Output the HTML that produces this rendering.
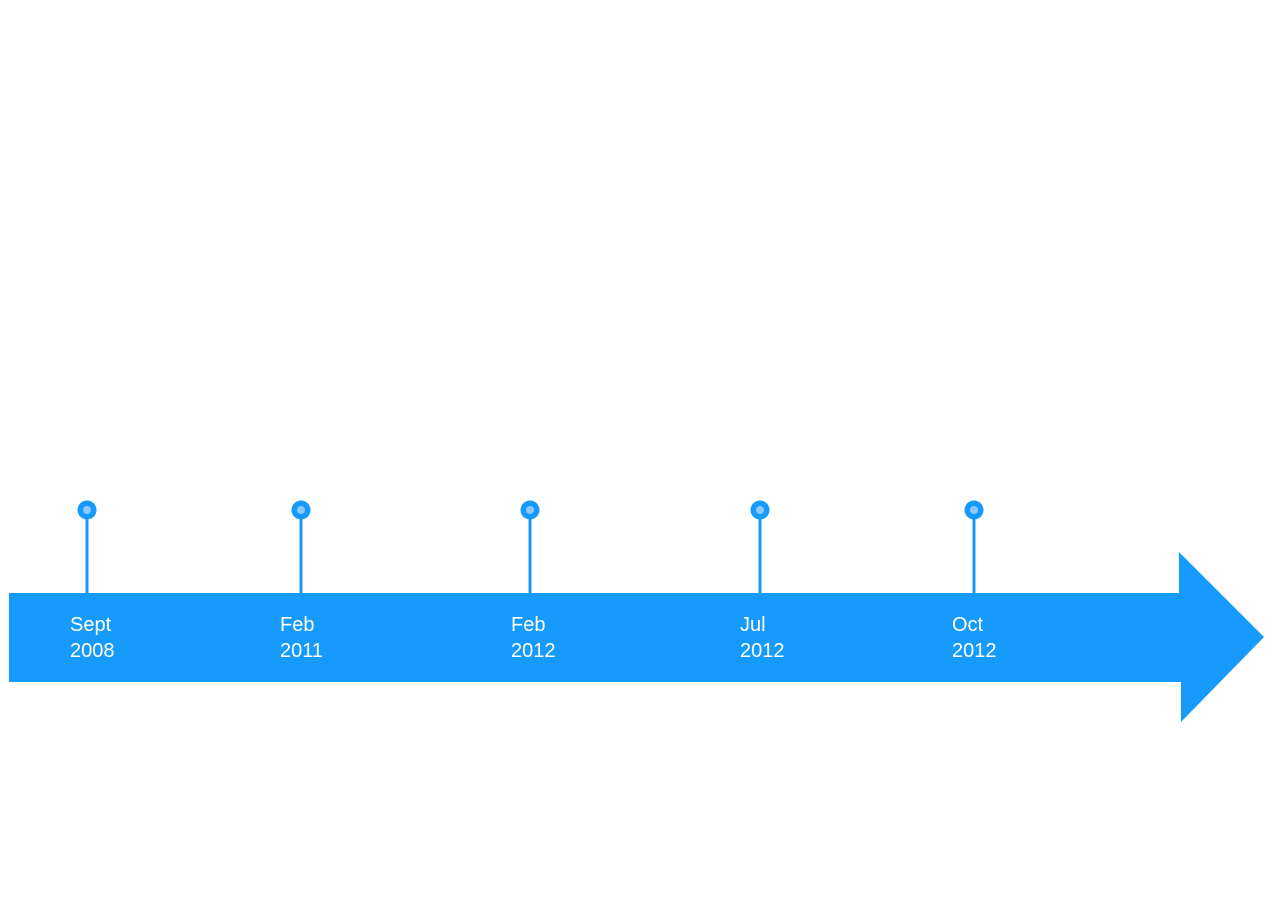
<!DOCTYPE html>
<html><head><meta charset="utf-8"><style>
html,body{margin:0;padding:0;background:#fff;width:1273px;height:900px;overflow:hidden}
svg{display:block}
text{font-family:"Liberation Sans",sans-serif;font-size:20px;fill:#fff}
</style></head><body>
<svg width="1273" height="900" viewBox="0 0 1273 900">
<polygon fill="#169bfd" points="9,593 1179,593 1179,552 1264,637 1181,722 1181,682 9,682"/>
<g fill="#169bfd">
<rect x="85.5" y="515" width="3" height="79"/><circle cx="87" cy="510" r="9.5"/>
<rect x="299.5" y="515" width="3" height="79"/><circle cx="301" cy="510" r="9.5"/>
<rect x="528.5" y="515" width="3" height="79"/><circle cx="530" cy="510" r="9.5"/>
<rect x="758.5" y="515" width="3" height="79"/><circle cx="760" cy="510" r="9.5"/>
<rect x="972.5" y="515" width="3" height="79"/><circle cx="974" cy="510" r="9.5"/>
</g>
<g fill="#8fcaff">
<circle cx="87" cy="510" r="4"/><circle cx="301" cy="510" r="4"/><circle cx="530" cy="510" r="4"/><circle cx="760" cy="510" r="4"/><circle cx="974" cy="510" r="4"/>
</g>
<text x="70" y="631">Sept</text><text x="70" y="657">2008</text>
<text x="280" y="631">Feb</text><text x="280" y="657">2011</text>
<text x="511" y="631">Feb</text><text x="511" y="657">2012</text>
<text x="740" y="631">Jul</text><text x="740" y="657">2012</text>
<text x="952" y="631">Oct</text><text x="952" y="657">2012</text>
</svg>
</body></html>
